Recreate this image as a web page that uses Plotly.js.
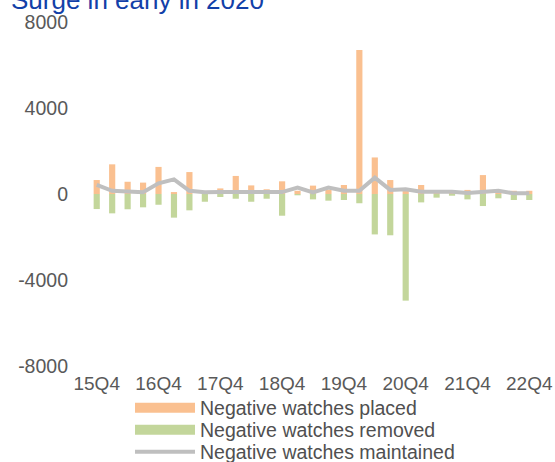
<!DOCTYPE html>
<html>
<head>
<meta charset="utf-8">
<script src="https://cdn.plot.ly/plotly-3.0.1.min.js"></script>
<style>
  html, body { margin: 0; padding: 0; background: #fff; }
  #chart { width: 555px; height: 462px; }
</style>
</head>
<body>
<div id="chart"></div>
<script>
const quarters = ["15Q4",
    "16Q1", "16Q2", "16Q3", "16Q4",
    "17Q1", "17Q2", "17Q3", "17Q4",
    "18Q1", "18Q2", "18Q3", "18Q4",
    "19Q1", "19Q2", "19Q3", "19Q4",
    "20Q1", "20Q2", "20Q3", "20Q4",
    "21Q1", "21Q2", "21Q3", "21Q4",
    "22Q1", "22Q2", "22Q3", "22Q4"]

const placed = [650, 1380, 570, 530, 1260, 90, 1020, 50, 260, 840, 400, 220, 590, 150, 390, 200,
    420, 6700, 1700, 650, 190, 420, 100, 80, 190, 880, 100, 150, 150]
const removed = [-700, -900, -710, -620, -500, -1100, -760, -360, -140, -220, -360, -220, -1010, -60, -250, -310,
    -280, -430, -1880, -1920, -4960, -390, -170, -80, -250, -560, -200, -280, -280]
const maintained = [420, 150, 120, 80, 500, 680, 150, 80, 90, 90, 90, 50, 90, 300, 70, 300,
    150, 150, 760, 190, 220, 110, 100, 110, 50, 110, 150, 30, 40]

const tickQuarters = ["15Q4", "16Q4", "17Q4", "18Q4", "19Q4", "20Q4", "21Q4", "22Q4"]
const yTicks = [-8000, -4000, 0, 4000, 8000]
const yTickText = ["-8000", "-4000", "0", "4000", "8000"]

const names = ["Negative watches placed", "Negative watches removed", "Negative watches maintained"]
const colors = ["#fac090", "#c3d69b", "#bfbfbf"]

const font = "Arial, 'Liberation Sans', sans-serif"

var data = [
    {
        type: 'bar', x: quarters, y: placed, name: names[0],
        marker: { color: colors[0] }, width: 0.4, showlegend: false,
    },
    {
        type: 'bar', x: quarters, y: removed, name: names[1],
        marker: { color: colors[1] }, width: 0.4, showlegend: false,
    },
    {
        type: 'scatter', mode: 'lines', x: quarters, y: maintained, name: names[2],
        line: { color: colors[2], width: 4 }, showlegend: false,
    },
    // legend-only entries, one legend each so the rows sit tight like the original
    { type: 'scatter', mode: 'lines', x: [null], y: [null], name: names[0], line: { color: colors[0], width: 10 }, legend: 'legend' },
    { type: 'scatter', mode: 'lines', x: [null], y: [null], name: names[1], line: { color: colors[1], width: 10 }, legend: 'legend2' },
    { type: 'scatter', mode: 'lines', x: [null], y: [null], name: names[2], line: { color: colors[2], width: 4 }, legend: 'legend3' },
]

function legendAt(y) {
    return {
        xref: 'container', yref: 'container',
        x: 130 / 555, xanchor: 'left',
        y: y, yanchor: 'middle',
        itemwidth: 60,
        font: { family: font, size: 19.5, color: '#505050' },
        bgcolor: 'rgba(0,0,0,0)',
        borderwidth: 0,
    }
}

var layout = {
    width: 555,
    height: 462,
    margin: { l: 89, r: 18, t: 22, b: 96, autoexpand: false },
    paper_bgcolor: '#fff',
    plot_bgcolor: '#fff',
    barmode: 'relative',
    font: { family: font, size: 19, color: '#595959' },
    title: {
        text: 'Surge in early in 2020',
        font: { family: font, size: 26, color: '#1240a8' },
        x: 11 / 555, xanchor: 'left', xref: 'container',
        y: 1, yanchor: 'middle', yref: 'container',
        automargin: false,
    },
    xaxis: {
        type: 'category',
        categoryorder: 'array',
        categoryarray: quarters,
        range: [-0.5, quarters.length - 0.5],
        tickmode: 'array',
        tickvals: tickQuarters,
        ticktext: tickQuarters,
        showgrid: false, zeroline: false, showline: false,
        ticks: '', ticklabelstandoff: 4,
        automargin: false,
        tickfont: { size: 19, color: '#595959' },
    },
    yaxis: {
        range: [-8000, 8000],
        tickmode: 'array',
        tickvals: yTicks,
        ticktext: yTickText,
        showgrid: false, zeroline: false, showline: false,
        ticks: '', ticklabelstandoff: 20,
        automargin: false,
        tickfont: { size: 19.5, color: '#595959' },
    },
    legend: legendAt(1 - 408 / 462),
    legend2: legendAt(1 - 430 / 462),
    legend3: legendAt(1 - 452 / 462),
    showlegend: true,
}

Plotly.newPlot('chart', data, layout, { displayModeBar: false, staticPlot: true })
</script>
</body>
</html>
